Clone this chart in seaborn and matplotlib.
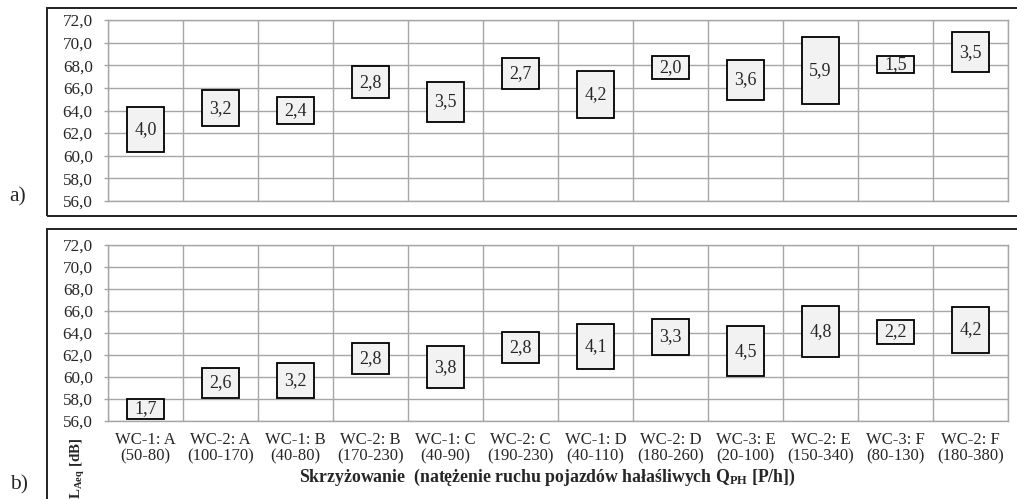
import matplotlib
matplotlib.use("Agg")
import matplotlib.pyplot as plt
import seaborn as sns
import pandas as pd
from matplotlib.patches import Rectangle
from matplotlib.ticker import FuncFormatter, FixedLocator

# intersections and heavy-vehicle flow ranges
sites = ["WC-1: A", "WC-2: A", "WC-1: B", "WC-2: B", "WC-1: C", "WC-2: C",
         "WC-1: D", "WC-2: D", "WC-3: E", "WC-2: E", "WC-3: F", "WC-2: F"]
flows = ["(50-80)", "(100-170)", "(40-80)", "(170-230)", "(40-90)", "(190-230)",
         "(40-110)", "(180-260)", "(20-100)", "(150-340)", "(80-130)", "(180-380)"]

# panel a) range of LAeq [dB]
a_low = [60.3, 62.6, 62.8, 65.1, 63.0, 65.9, 63.3, 66.8, 64.9, 64.6, 67.3, 67.4]
a_high = [64.3, 65.8, 65.2, 67.9, 66.5, 68.6, 67.5, 68.8, 68.5, 70.5, 68.8, 70.9]
a_spread = [4.0, 3.2, 2.4, 2.8, 3.5, 2.7, 4.2, 2.0, 3.6, 5.9, 1.5, 3.5]

# panel b)
b_low = [56.2, 58.1, 58.1, 60.3, 59.0, 61.3, 60.7, 62.0, 60.1, 61.8, 63.0, 62.2]
b_high = [58.0, 60.8, 61.3, 63.1, 62.8, 64.1, 64.8, 65.3, 64.6, 66.5, 65.2, 66.4]
b_spread = [1.7, 2.6, 3.2, 2.8, 3.8, 2.8, 4.1, 3.3, 4.5, 4.8, 2.2, 4.2]

yticks = [56, 58, 60, 62, 64, 66, 68, 70, 72]

sns.set_style("white")
plt.rcParams['font.family'] = ['Liberation Serif', 'DejaVu Serif']
plt.rcParams['mathtext.fontset'] = 'custom'
plt.rcParams['mathtext.rm'] = 'Liberation Serif'
plt.rcParams['mathtext.it'] = 'Liberation Serif:italic'
plt.rcParams['mathtext.bf'] = 'Liberation Serif:bold'

W, H = 1017, 499
fig = plt.figure(figsize=(W / 100, H / 100), dpi=100)


def px_axes(left, top, right, bottom):
    return fig.add_axes([left / W, 1 - bottom / H, (right - left) / W, (bottom - top) / H])


GRID = "#a6a6a6"


def panel(ax, low, high, spread, show_labels):
    df = pd.DataFrame({"site": sites, "low": low, "high": high, "spread": spread})
    df["height"] = df["high"] - df["low"]
    sns.barplot(data=df, x="site", y="height", bottom=df["low"], order=sites,
                width=0.5, color="#f2f2f2", saturation=1, edgecolor="black",
                linewidth=1.3, errorbar=None, ax=ax, zorder=3)
    for i, row in df.iterrows():
        ax.text(i, (row["low"] + row["high"]) / 2, f"{row['spread']:.1f}".replace(".", ","),
                ha="center", va="center", fontsize=13, zorder=4)

    ax.set_ylim(56, 72)
    ax.set_xlim(-0.5, len(sites) - 0.5)
    ax.yaxis.set_major_locator(FixedLocator(yticks))
    ax.yaxis.set_major_formatter(FuncFormatter(lambda v, p: f"{v:.1f}".replace(".", ",")))
    ax.xaxis.set_minor_locator(FixedLocator([i - 0.5 for i in range(len(sites) + 1)]))
    ax.set_xticks(range(len(sites)))
    if show_labels:
        ax.set_xticklabels([f"{s}\n{f}" for s, f in zip(sites, flows)], fontsize=12,
                           linespacing=1.05)
        ax.tick_params(axis="x", which="minor", length=5, color=GRID, width=1)
    else:
        ax.set_xticklabels([])
        ax.tick_params(axis="x", which="minor", length=0)
    ax.tick_params(axis="x", which="major", length=0, pad=8)
    ax.tick_params(axis="y", length=3, color=GRID, width=1, pad=8, labelsize=12.3, left=True)

    ax.grid(True, axis="y", which="major", color=GRID, lw=1, zorder=0)
    ax.grid(True, axis="x", which="minor", color=GRID, lw=1, zorder=0)
    ax.grid(False, axis="x", which="major")
    ax.set_axisbelow(True)
    for sp in ax.spines.values():
        sp.set_color(GRID)
        sp.set_linewidth(1)
    ax.set_xlabel("")
    ax.set_ylabel("")


ax_a = px_axes(108, 20, 1008, 201)
panel(ax_a, a_low, a_high, a_spread, False)

ax_b = px_axes(108, 245, 1008, 421)
panel(ax_b, b_low, b_high, b_spread, True)

# outer frames around each panel
fig.add_artist(Rectangle((47 / W, 1 - 216 / H), 1.0, 208 / H, transform=fig.transFigure,
                         fill=False, ec="#222222", lw=1.4))
fig.add_artist(Rectangle((47 / W, -0.02), 1.0, 1 - 229 / H + 0.02, transform=fig.transFigure,
                         fill=False, ec="#222222", lw=1.4))

fig.text(18 / W, 1 - 197 / H, "a)", fontsize=15.5, ha="center", va="center")
fig.text(19 / W, 1 - 485 / H, "b)", fontsize=15.5, ha="center", va="center")

fig.text(547 / W, 1 - 477 / H,
         r"Skrzyżowanie  (natężenie ruchu pojazdów hałaśliwych $\mathbf{Q_{PH}}$ [P/h])",
         fontsize=12.8, fontweight="bold", ha="center", va="center")
fig.text(78 / W, 1 - 468 / H, r"$\mathbf{L_{Aeq}}$ [dB]", fontsize=10.8, fontweight="bold",
         rotation=90, ha="center", va="center")

fig.savefig("out.png", dpi=100)
